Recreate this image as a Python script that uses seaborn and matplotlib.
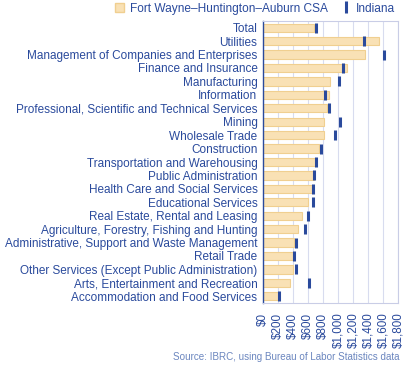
import numpy as np
import pandas as pd
import matplotlib
matplotlib.use("Agg")
import matplotlib.pyplot as plt
import seaborn as sns
from matplotlib.patches import Patch
from matplotlib.lines import Line2D
from matplotlib.ticker import FuncFormatter

# Average weekly wage by industry
industries = [
    "Total",
    "Utilities",
    "Management of Companies and Enterprises",
    "Finance and Insurance",
    "Manufacturing",
    "Information",
    "Professional, Scientific and Technical Services",
    "Mining",
    "Wholesale Trade",
    "Construction",
    "Transportation and Warehousing",
    "Public Administration",
    "Health Care and Social Services",
    "Educational Services",
    "Real Estate, Rental and Leasing",
    "Agriculture, Forestry, Fishing and Hunting",
    "Administrative, Support and Waste Management",
    "Retail Trade",
    "Other Services (Except Public Administration)",
    "Arts, Entertainment and Recreation",
    "Accommodation and Food Services",
]
fort_wayne = [675, 1551, 1364, 1120, 897, 884, 853, 818, 818, 742, 711, 675,
              653, 604, 524, 471, 417, 404, 395, 364, 213]
indiana = [706, 1346, 1618, 1071, 1009, 822, 880, 1022, 955, 768, 702, 684,
           666, 662, 604, 560, 444, 413, 440, 613, 218]
xticks = [0, 200, 400, 600, 800, 1000, 1200, 1400, 1600, 1800]

blue = "#2a4a9c"
bar_color = "#f9e1b5"
bar_edge = "#f0cf90"
grid_color = "#d8dcef"

df = pd.DataFrame({"industry": industries, "csa": fort_wayne, "indiana": indiana})

sns.set_style("white")
plt.rcParams["font.family"] = ["Liberation Sans", "DejaVu Sans"]

fig = plt.figure(figsize=(4.06, 3.66), dpi=100)
ax = fig.add_axes([263 / 406, 1 - 303 / 366, 135 / 406, 282 / 366])

sns.barplot(data=df, x="csa", y="industry", orient="h", color=bar_color,
            edgecolor=bar_edge, linewidth=0.8, width=0.62, saturation=1, ax=ax)
ax.scatter(df["indiana"], np.arange(len(df)), marker="|", s=50, linewidths=2.2,
           color=blue, zorder=5)

ax.set_xlim(0, 1800)
ax.set_ylim(len(df) - 0.5, -0.5)
ax.set_xticks(xticks)
ax.xaxis.set_major_formatter(FuncFormatter(lambda v, p: "${:,.0f}".format(v)))
ax.tick_params(axis="x", labelrotation=90, labelsize=8.4, colors=blue, length=0, pad=7)
ax.tick_params(axis="y", labelsize=8.5, colors=blue, length=0, pad=4)
ax.set_xlabel("")
ax.set_ylabel("")
ax.grid(axis="x", color=grid_color, linewidth=0.8)
ax.set_axisbelow(True)
for s in ["top", "right", "bottom"]:
    ax.spines[s].set_color("#c9cde6")
    ax.spines[s].set_linewidth(0.8)
ax.spines["left"].set_color(blue)
ax.spines["left"].set_linewidth(1.0)

handles = [Patch(facecolor=bar_color, edgecolor=bar_edge, label="Fort Wayne\u2013Huntington\u2013Auburn CSA"),
           Line2D([], [], marker="|", linestyle="none", color=blue, markersize=8,
                  markeredgewidth=2.2, label="Indiana")]
fig.legend(handles=handles, loc="upper right", bbox_to_anchor=(402 / 406, 1.012), ncol=2,
           frameon=False, fontsize=8.6, labelcolor=blue, handlelength=0.8,
           handleheight=0.8, handletextpad=0.45, columnspacing=1.1,
           borderaxespad=0.2)

fig.text(400 / 406, 1 - 357 / 366, "Source: IBRC, using Bureau of Labor Statistics data",
         ha="right", va="center", fontsize=7.1, color="#6b86bf")

fig.savefig("out.png", dpi=100)
